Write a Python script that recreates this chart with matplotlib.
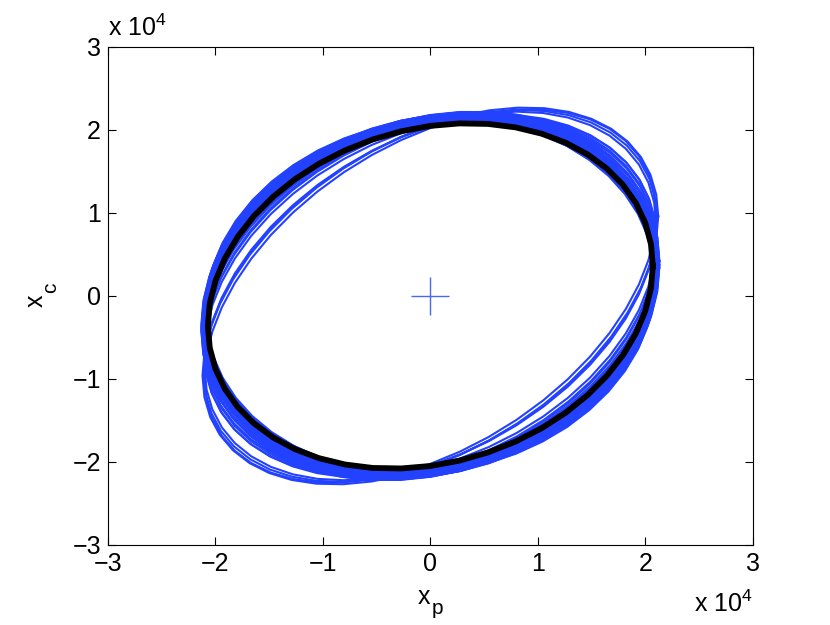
import numpy as np
import matplotlib
matplotlib.use("Agg")
import matplotlib.pyplot as plt

plt.rcParams['font.family'] = ['Liberation Sans', 'DejaVu Sans']

# ---- data (units of 1e4) ----
# limit cycle (black): x_p = A cos t, x_c = B cos(t - phase)
black_A = 2.07
black_B = 2.08
black_phase_deg = 80.0

# blue trajectories: amplitudes and phase shifts
blue_A = [2.09, 2.10, 2.11, 2.12, 2.13, 2.09, 2.10, 2.11, 2.12, 2.13,
          2.09, 2.10, 2.11, 2.12, 2.13, 2.10, 2.11, 2.12, 2.13, 2.11,
          2.10, 2.11, 2.12, 2.09, 2.10,
          2.10, 2.11, 2.10, 2.11, 2.10,
          2.10, 2.11, 2.10, 2.12]
blue_B = [2.12, 2.13, 2.14, 2.15, 2.16, 2.14, 2.15, 2.16, 2.17, 2.18,
          2.16, 2.17, 2.18, 2.19, 2.20, 2.19, 2.20, 2.21, 2.22, 2.22,
          2.12, 2.13, 2.14, 2.11, 2.18,
          2.16, 2.17, 2.18, 2.19, 2.17,
          2.22, 2.24, 2.25, 2.27]
blue_phase_deg = [84, 83, 82, 81, 80, 85, 84, 83, 82, 81,
                  83, 82, 81, 80, 79, 82, 81, 80, 79, 78,
                  81, 80, 79, 82, 80,
                  76, 75, 74, 73, 72,
                  67, 66, 64, 65]

center_x = [0.0]
center_y = [0.0]

xlim = (-3, 3)
ylim = (-3, 3)
ticks = [-3, -2, -1, 0, 1, 2, 3]

blue = '#2342ff'
n_pts = 48
fs = 18

fig = plt.figure(figsize=(8.3, 6.25), dpi=100)
ax = fig.add_axes([0.130, 0.128, 0.777, 0.797])

t = np.linspace(0, 2 * np.pi, n_pts + 1)
for A, B, ph in zip(blue_A, blue_B, blue_phase_deg):
    p = np.deg2rad(ph)
    ax.plot(A * np.cos(t), B * np.cos(t - p), color=blue, lw=1.5)

p = np.deg2rad(black_phase_deg)
ax.plot(black_A * np.cos(t), black_B * np.cos(t - p), color='black', lw=4.2,
        solid_joinstyle='round')

ax.plot(center_x, center_y, marker='+', color='#4a68ee', markersize=28,
        markeredgewidth=1.0, linestyle='none')

ax.set_xlim(*xlim)
ax.set_ylim(*ylim)
ax.set_xticks(ticks)
ax.set_yticks(ticks)
ax.set_xticklabels([f"{v:g}".replace('-', '\u2212') for v in ticks])
ax.set_yticklabels([f"{v:g}".replace('-', '\u2212') for v in ticks])
ax.tick_params(direction='in', top=True, right=True, labelsize=fs, length=6,
               width=0.8, pad=5)
for s in ax.spines.values():
    s.set_linewidth(0.8)

W, H = 830.0, 625.0
# x-axis label: x with subscript p
fig.text(423.5 / W, 1 - 597.5 / H, 'x', fontsize=fs, ha='center', va='center')
fig.text(437 / W, 1 - 609 / H, 'p', fontsize=15, ha='center', va='center')
# y-axis label: x with subscript c (rotated)
fig.text(36 / W, 1 - 301 / H, 'x', fontsize=fs, ha='center', va='center',
         rotation=90)
fig.text(51 / W, 1 - 288 / H, 'c', fontsize=15, ha='center', va='center',
         rotation=90)

fig.text(108 / W, 1 - 28 / H, r'x 10$^\mathregular{4}$', fontsize=fs,
         ha='left', va='center')
fig.text(753 / W, 1 - 604 / H, r'x 10$^\mathregular{4}$', fontsize=fs,
         ha='right', va='center')

fig.savefig('out.png', dpi=100)
